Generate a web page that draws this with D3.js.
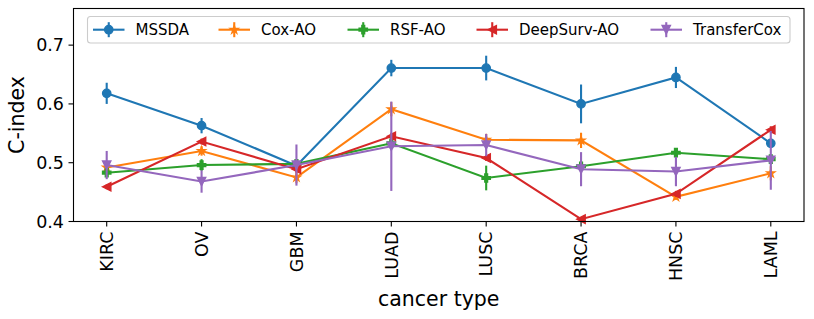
<!DOCTYPE html>
<html>
<head>
<meta charset="utf-8">
<script src="https://cdn.jsdelivr.net/npm/d3@7"></script>
<style>
  body { margin: 0; background: #fff; }
  svg { display: block; font-family: "DejaVu Sans", sans-serif; }
</style>
</head>
<body>
<svg id="chart" width="814" height="319"></svg>
<script>
// C-index per cancer type, with error bars

const categories = ["KIRC", "OV", "GBM", "LUAD", "LUSC", "BRCA", "HNSC", "LAML"];
const seriesNames = ["MSSDA", "Cox-AO", "RSF-AO", "DeepSurv-AO", "TransferCox"];

const mssda       = [0.618, 0.563, 0.495, 0.661, 0.661, 0.600, 0.645, 0.533];
const mssdaErr    = [0.018, 0.013, 0.006, 0.014, 0.021, 0.033, 0.018, 0.008];
const coxAO       = [0.492, 0.520, 0.475, 0.591, 0.539, 0.538, 0.442, 0.482];
const coxAOErr    = [0.006, 0.008, 0.010, 0.012, 0.010, 0.013, 0.005, 0.012];
const rsfAO       = [0.483, 0.496, 0.498, 0.533, 0.474, 0.494, 0.517, 0.506];
const rsfAOErr    = [0.007, 0.010, 0.008, 0.008, 0.021, 0.008, 0.008, 0.006];
const deepSurvAO  = [0.459, 0.536, 0.489, 0.545, 0.508, 0.404, 0.447, 0.556];
const deepSurvErr = [0.004, 0.005, 0.006, 0.006, 0.005, 0.003, 0.005, 0.006];
const transferCox = [0.496, 0.468, 0.496, 0.528, 0.530, 0.489, 0.485, 0.504];
const transferErr = [0.024, 0.019, 0.035, 0.076, 0.019, 0.029, 0.025, 0.050];

const yTicks = [0.4, 0.5, 0.6, 0.7];

const colors = ["#1f77b4", "#ff7f0e", "#2ca02c", "#d62728", "#9467bd"];
const markers = ["circle", "star", "plus", "triLeft", "triDown"];

const series = seriesNames.map((name, i) => ({
    name,
    color: colors[i],
    marker: markers[i],
    values: [mssda, coxAO, rsfAO, deepSurvAO, transferCox][i],
    errors: [mssdaErr, coxAOErr, rsfAOErr, deepSurvErr, transferErr][i]
}));

const svg = d3.select("#chart");
const margin = { left: 73.5, right: 10, top: 8.5, bottom: 97.5 };
const width = 814, height = 319;
const plotW = width - margin.left - margin.right;
const plotH = height - margin.top - margin.bottom;

const x = d3.scaleLinear().domain([-0.35, categories.length - 1 + 0.35]).range([0, plotW]);
const y = d3.scaleLinear().domain([0.4, 0.7623]).range([plotH, 0]);

const g = svg.append("g").attr("transform", `translate(${margin.left},${margin.top})`);

// marker shapes, roughly matplotlib's at markersize 6
const ms = 8.3;
function markerPath(kind) {
    const h = ms / 2;
    const p = d3.path();
    if (kind === "circle") {
        p.arc(0, 0, h, 0, 2 * Math.PI);
    } else if (kind === "star") {
        const inner = h * 0.381966;
        for (let k = 0; k < 10; k++) {
            const r = k % 2 === 0 ? h : inner;
            const a = -Math.PI / 2 + k * Math.PI / 5;
            const px = r * Math.cos(a), py = r * Math.sin(a);
            if (k === 0) p.moveTo(px, py); else p.lineTo(px, py);
        }
    } else if (kind === "plus") {
        const a = ms / 6;
        const pts = [[-a, -h], [a, -h], [a, -a], [h, -a], [h, a], [a, a], [a, h], [-a, h], [-a, a], [-h, a], [-h, -a], [-a, -a]];
        pts.forEach((pt, k) => k === 0 ? p.moveTo(pt[0], pt[1]) : p.lineTo(pt[0], pt[1]));
    } else if (kind === "triLeft") {
        p.moveTo(-h, 0); p.lineTo(h, -h); p.lineTo(h, h);
    } else if (kind === "triDown") {
        p.moveTo(0, h); p.lineTo(-h, -h); p.lineTo(h, -h);
    }
    p.closePath();
    return p.toString();
}

// axes ticks + labels
const tickLen = 5;
const yAxis = g.append("g");
yTicks.forEach(t => {
    yAxis.append("line")
        .attr("x1", -tickLen).attr("x2", 0)
        .attr("y1", y(t)).attr("y2", y(t))
        .attr("stroke", "#000").attr("stroke-width", 1.1);
    yAxis.append("text")
        .attr("x", -tickLen - 4.5).attr("y", y(t))
        .attr("text-anchor", "end").attr("dy", "0.36em")
        .attr("font-size", 17.5).attr("fill", "#000")
        .text(t.toFixed(1));
});

const xAxis = g.append("g").attr("transform", `translate(0,${plotH})`);
categories.forEach((c, i) => {
    xAxis.append("line")
        .attr("x1", x(i)).attr("x2", x(i))
        .attr("y1", 0).attr("y2", tickLen)
        .attr("stroke", "#000").attr("stroke-width", 1.1);
    xAxis.append("text")
        .attr("transform", `translate(${x(i)},${tickLen + 5}) rotate(-90)`)
        .attr("text-anchor", "end").attr("dy", "0.36em")
        .attr("font-size", 17.5).attr("fill", "#000")
        .text(c);
});

// axis titles
svg.append("text")
    .attr("transform", `translate(24,${margin.top + plotH / 2}) rotate(-90)`)
    .attr("text-anchor", "middle")
    .attr("font-size", 20.5)
    .text("C-index");
svg.append("text")
    .attr("x", margin.left + plotW / 2).attr("y", 306)
    .attr("text-anchor", "middle")
    .attr("font-size", 20.5)
    .text("cancer type");

// series
const plot = g.append("g");
series.forEach(s => {
    const sg = plot.append("g");
    const line = d3.line().x((d, i) => x(i)).y(d => y(d));
    sg.append("path")
        .attr("d", line(s.values))
        .attr("fill", "none")
        .attr("stroke", s.color)
        .attr("stroke-width", 2.1);
    sg.selectAll("line.err")
        .data(s.values)
        .join("line")
        .attr("class", "err")
        .attr("x1", (d, i) => x(i)).attr("x2", (d, i) => x(i))
        .attr("y1", (d, i) => y(d - s.errors[i]))
        .attr("y2", (d, i) => y(d + s.errors[i]))
        .attr("stroke", s.color)
        .attr("stroke-width", 2.1);
    sg.selectAll("path.mk")
        .data(s.values)
        .join("path")
        .attr("class", "mk")
        .attr("d", markerPath(s.marker))
        .attr("transform", (d, i) => `translate(${x(i)},${y(d)})`)
        .attr("fill", s.color)
        .attr("stroke", s.color)
        .attr("stroke-width", 1.4);
});

// frame
g.append("rect")
    .attr("width", plotW).attr("height", plotH)
    .attr("fill", "none").attr("stroke", "#000").attr("stroke-width", 1.1);

// legend
const legendX = [93, 218.5, 347.5, 476.5, 650.5];
const legend = svg.append("g");
legend.append("rect")
    .attr("x", 87.5).attr("y", 16.5)
    .attr("width", 702.5).attr("height", 26.5)
    .attr("rx", 3)
    .attr("fill", "rgba(255,255,255,0.8)")
    .attr("stroke", "#cccccc").attr("stroke-width", 1.1);
series.forEach((s, i) => {
    const lx = legendX[i], ly = 29.7;
    const item = legend.append("g").attr("transform", `translate(${lx},${ly})`);
    item.append("line")
        .attr("x1", 0).attr("x2", 31.5).attr("y1", 0).attr("y2", 0)
        .attr("stroke", s.color).attr("stroke-width", 2.1);
    item.append("line")
        .attr("x1", 15.75).attr("x2", 15.75).attr("y1", -7.5).attr("y2", 7.5)
        .attr("stroke", s.color).attr("stroke-width", 2.1);
    item.append("path")
        .attr("d", markerPath(s.marker))
        .attr("transform", "translate(15.75,0)")
        .attr("fill", s.color).attr("stroke", s.color).attr("stroke-width", 1.4);
    item.append("text")
        .attr("x", 42.5).attr("y", 0).attr("dy", "0.36em")
        .attr("font-size", 15)
        .text(s.name);
});
</script>
</body>
</html>
